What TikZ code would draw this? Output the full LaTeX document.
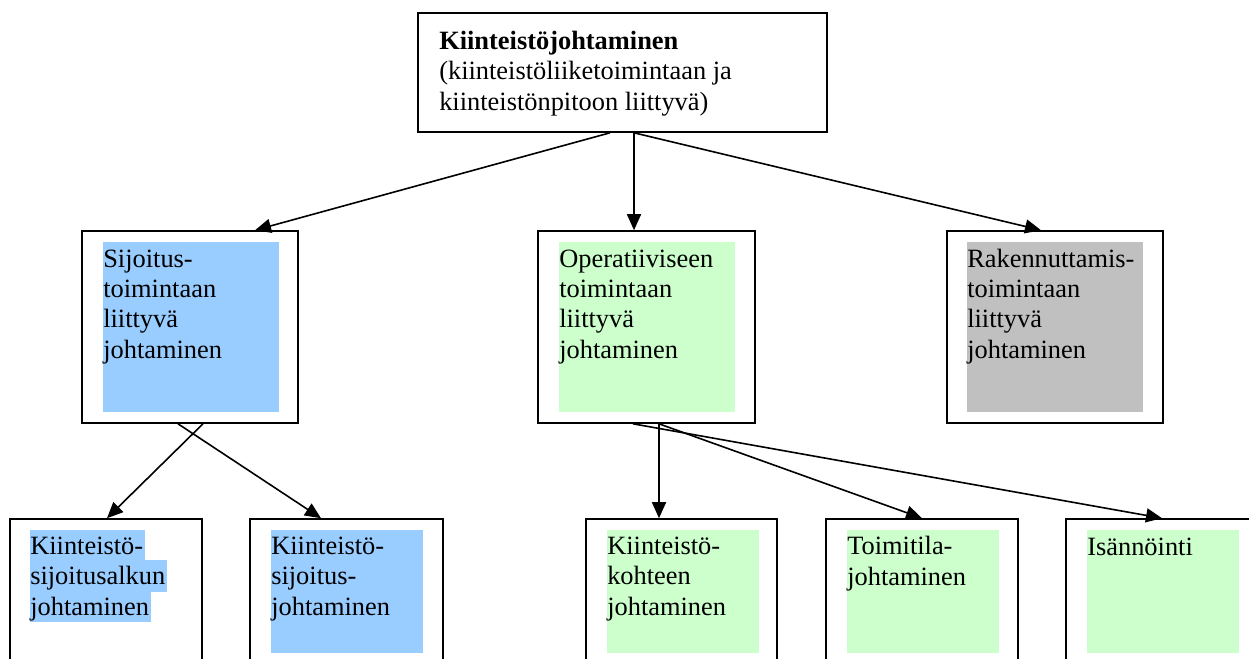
\documentclass[tikz,border=0pt]{standalone}
\usepackage{fontspec}
\setmainfont{Liberation Serif}
\usetikzlibrary{arrows.meta,calc,fit}
\definecolor{sblue}{HTML}{99CCFF}
\definecolor{sgreen}{HTML}{CCFFCC}
\definecolor{sgray}{HTML}{C0C0C0}
\begin{document}
\begin{tikzpicture}[x=0.75pt,y=-0.75pt,
  box/.style={draw=black,line width=1.2pt,inner sep=0pt},
  txt/.style={anchor=base west,inner sep=0pt,align=left,font=\fontsize{19.8pt}{22.7pt}\selectfont},
  arr/.style={-{Triangle[length=12pt,width=10.5pt]},line width=1.2pt}]
\clip (0,0) rectangle (1249,658);
\fill[white] (0,0) rectangle (1249,658);

% colour fills
\fill[sblue] (103,242) rectangle (279,412);
\fill[sgreen] (559,242) rectangle (735,412);
\fill[sgray] (967,242) rectangle (1143,412);
\fill[sblue] (30,530) rectangle (145,560);
\fill[sblue] (30,560) rectangle (167,592);
\fill[sblue] (30,592) rectangle (151,622);
\fill[sblue] (271,530) rectangle (423,653);
\fill[sgreen] (607,530) rectangle (759,653);
\fill[sgreen] (847,530) rectangle (999,653);
\fill[sgreen] (1087,530) rectangle (1239,653);

% boxes
\node[box,fit={(418,13) (827,132)}] (top) {};
\node[box,fit={(82,231) (298,423)}] (m1) {};
\node[box,fit={(538,231) (755,423)}] (m2) {};
\node[box,fit={(947,231) (1163,423)}] (m3) {};
\node[box,fit={(10,519) (202,690)}] (b1) {};
\node[box,fit={(250,519) (443,690)}] (b2) {};
\node[box,fit={(586,519) (777,690)}] (b3) {};
\node[box,fit={(826,519) (1018,690)}] (b4) {};
\node[box,fit={(1066,519) (1258,690)}] (b5) {};

% texts (anchored at the baseline of their last line)
\node[txt] (ttop) at (439,110) {\textbf{Kiinteistöjohtaminen}\\(kiinteistöliiketoimintaan ja\\kiinteistönpitoon liittyvä)};
\node[txt] (tm1) at (103,358) {Sijoitus-\\toimintaan\\liittyvä\\johtaminen};
\node[txt] (tm2) at (559,358) {Operatiiviseen\\toimintaan\\liittyvä\\johtaminen};
\node[txt] (tm3) at (967,358) {Rakennuttamis-\\toimintaan\\liittyvä\\johtaminen};
\node[txt] (tb1) at (30,615) {Kiinteistö-\\sijoitusalkun\\johtaminen};
\node[txt] (tb2) at (271,615) {Kiinteistö-\\sijoitus-\\johtaminen};
\node[txt] (tb3) at (607,615) {Kiinteistö-\\kohteen\\johtaminen};
\node[txt] (tb4) at (847,585) {Toimitila-\\johtaminen};
\node[txt] (tb5) at (1087,555) {Isännöinti};

% connectors
\draw[arr] ($(top.south)+(-12.5,0)$) -- ($(m1.north)+(65,0)$);
\draw[arr] ($(top.south)+(11.5,0)$) -- ($(m2.north)+(-12.5,0)$);
\draw[arr] ($(top.south)+(11.5,0)$) -- ($(m3.north)+(-14,0)$);
\draw[arr] ($(m1.south)+(13,0)$) -- ($(b1.north)+(1,0)$);
\draw[arr] ($(m1.south)+(-12,0)$) -- ($(b2.north)+(-25.5,0)$);
\draw[arr] ($(m2.south)+(12.5,0)$) -- ($(b3.north)+(-22.5,0)$);
\draw[arr] ($(m2.south)+(12.5,0)$) -- (b4.north);
\draw[arr] ($(m2.south)+(-13.5,0)$) -- (b5.north);
\end{tikzpicture}
\end{document}
